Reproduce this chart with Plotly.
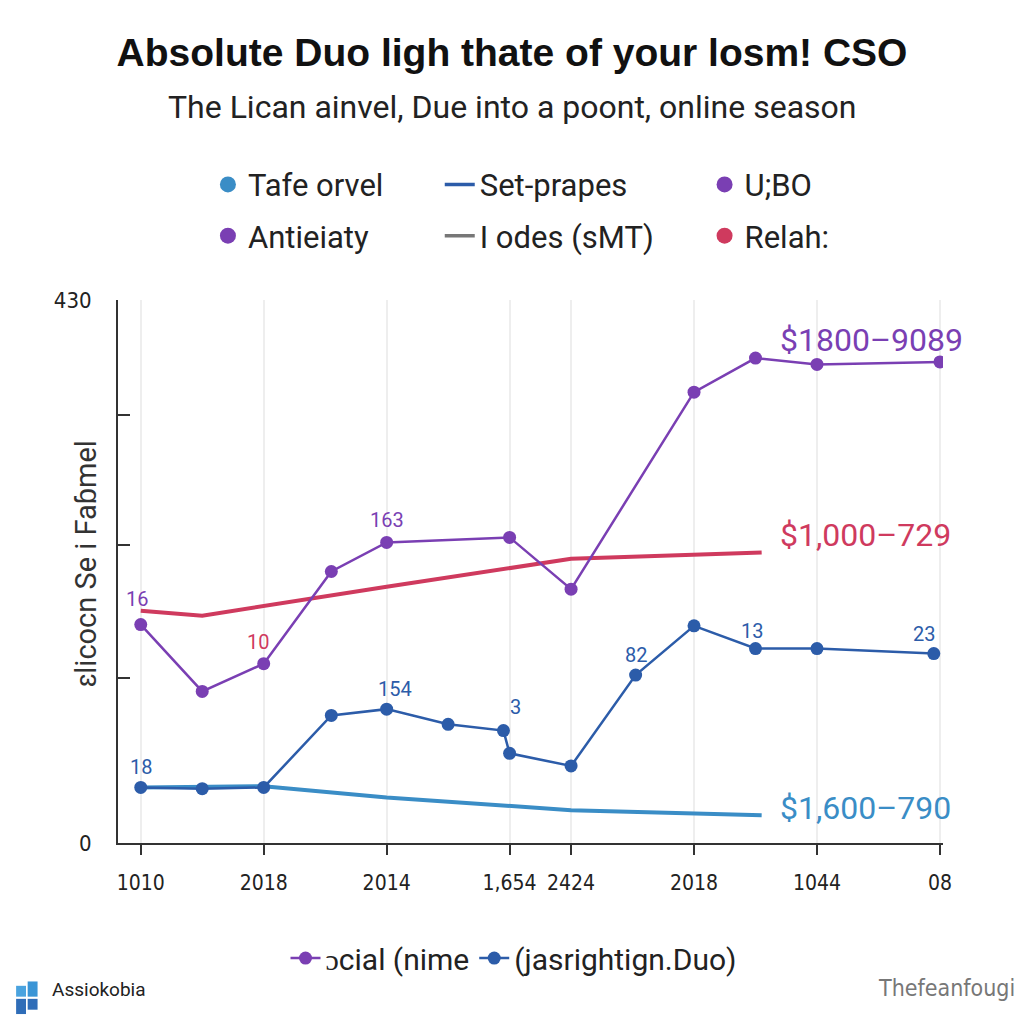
import plotly.graph_objects as go

# ---------------- data ----------------
x_ticks = [0, 2, 4, 6, 7, 9, 11, 13]
x_tick_labels = ["1010", "2018", "2014", "1,654", "2424", "2018", "1044", "08"]

purple_x = [0, 1, 2, 3.1, 4, 6, 7, 9, 10, 11, 13]
purple_y = [173, 120, 142, 215, 238, 242, 201, 357, 384, 379, 381]

blue_x = [0, 1, 2, 3.1, 4, 5, 5.9, 6, 7, 8.05, 9, 10, 11, 12.9]
blue_y = [44, 43, 44, 101, 106, 94, 89, 71, 61, 133, 172, 154, 154, 150]

red_x = [0, 1, 4, 7, 10.1]
red_y = [184, 180, 203, 225, 230]

light_x = [0, 2, 4, 7, 10.1]
light_y = [44, 45, 36, 26, 22]

y_ticks = [0, 131, 236, 339, 430]
y_tick_labels = ["0", "", "", "", "430"]

# point labels: (index, text, dx, dy)
purple_labels = [(0, "16", -4, 26), (4, "163", 0, 22)]
blue_labels = [(0, "18", 0, 20), (4, "154", 8, 20), (6, "3", 12, 24),
               (9, "82", 0, 20), (11, "13", -4, 18), (13, "23", -10, 20)]
red_label = (2, "10", -6, 22)  # placed relative to purple point index 2

end_labels = [
    ("$1800\u20139089", 10.36, 398, "#7a3fb3"),
    ("$1,000\u2013729", 10.36, 244, "#cf3a5e"),
    ("$1,600\u2013790", 10.36, 28, "#3a8dc6"),
]

PURPLE = "#7a3fb3"
BLUE = "#2c5ca9"
RED = "#cf3a5e"
LIGHT = "#3a8dc6"
GRAY = "#777777"

NARROW = "DejaVu Sans Condensed, Roboto, Liberation Sans"

fig = go.Figure()

fig.add_trace(go.Scatter(x=light_x, y=light_y, mode="lines",
                         line=dict(color=LIGHT, width=4), showlegend=False))
fig.add_trace(go.Scatter(x=red_x, y=red_y, mode="lines",
                         line=dict(color=RED, width=4), showlegend=False))
fig.add_trace(go.Scatter(x=purple_x, y=purple_y, mode="lines+markers",
                         line=dict(color=PURPLE, width=2.5),
                         marker=dict(color=PURPLE, size=13),
                         name="\u0254cial (nime", legend="legend2"))
fig.add_trace(go.Scatter(x=blue_x, y=blue_y, mode="lines+markers",
                         line=dict(color=BLUE, width=2.5),
                         marker=dict(color=BLUE, size=13),
                         name="(jasrightign.Duo)", legend="legend2"))


def legend_marker(name, color, leg, grp):
    fig.add_trace(go.Scatter(x=[None], y=[None], mode="markers",
                             marker=dict(color=color, size=22),
                             name=name, legend=leg, legendgroup=grp))


def legend_line(name, color, leg, grp):
    fig.add_trace(go.Scatter(x=[None], y=[None], mode="lines",
                             line=dict(color=color, width=3.5),
                             name=name, legend=leg, legendgroup=grp))


legend_marker("Tafe orvel", LIGHT, "legend", "a1")
legend_marker("Antieiaty", PURPLE, "legend", "a2")
legend_line("Set-prapes", BLUE, "legend3", "b1")
legend_line("I odes (sMT)", GRAY, "legend3", "b2")
legend_marker("U;BO", PURPLE, "legend4", "c1")
legend_marker("Relah:", RED, "legend4", "c2")

annotations = []
for idx, txt, dx, dy in purple_labels:
    annotations.append(dict(x=purple_x[idx], y=purple_y[idx], text=txt, showarrow=False,
                            xshift=dx, yshift=dy, font=dict(size=20, color=PURPLE)))
for idx, txt, dx, dy in blue_labels:
    annotations.append(dict(x=blue_x[idx], y=blue_y[idx], text=txt, showarrow=False,
                            xshift=dx, yshift=dy, font=dict(size=20, color=BLUE)))
idx, txt, dx, dy = red_label
annotations.append(dict(x=purple_x[idx], y=purple_y[idx], text=txt, showarrow=False,
                        xshift=dx, yshift=dy, font=dict(size=20, color=RED)))
for txt, xx, yy, col in end_labels:
    annotations.append(dict(x=xx, y=yy, text=txt, showarrow=False, xanchor="left",
                            font=dict(size=32, color=col)))

# subtitle
annotations.append(dict(xref="paper", yref="paper", x=0.478, y=1.355,
                        text="The Lican ainvel, Due into a poont, online season",
                        showarrow=False, yanchor="middle",
                        font=dict(size=32, color="#222222")))
# y axis title
annotations.append(dict(xref="paper", yref="paper", x=-0.038, y=0.515,
                        xanchor="center", yanchor="middle",
                        text="\u025blicocn Se i Fa\u0253mel", textangle=-90,
                        showarrow=False, font=dict(size=29, color="#333333")))
# footer
annotations.append(dict(xref="paper", yref="paper", x=-0.083, y=-0.294, xanchor="left",
                        text="Assiokobia", showarrow=False,
                        font=dict(size=19, color="#222222", family="Roboto")))
annotations.append(dict(xref="paper", yref="paper", x=1.09, y=-0.294, xanchor="right",
                        text="Thefeanfougi", showarrow=False,
                        font=dict(size=23, color="#777777", family=NARROW)))

shapes = [
    dict(type="rect", xref="paper", yref="paper", x0=-0.1235, x1=-0.1115, y0=-0.263, y1=-0.283,
         fillcolor="#4aa3df", line_width=0),
    dict(type="rect", xref="paper", yref="paper", x0=-0.1095, x1=-0.0975, y0=-0.255, y1=-0.283,
         fillcolor="#3a95d6", line_width=0),
    dict(type="rect", xref="paper", yref="paper", x0=-0.1235, x1=-0.1115, y0=-0.287, y1=-0.315,
         fillcolor="#2f6db8", line_width=0),
    dict(type="rect", xref="paper", yref="paper", x0=-0.1095, x1=-0.0975, y0=-0.287, y1=-0.307,
         fillcolor="#2f6db8", line_width=0),
]

legend_font = dict(size=31, color="#222222", family="Roboto")

fig.update_layout(
    width=1024, height=1024,
    margin=dict(l=118, r=81, t=300, b=181),
    paper_bgcolor="white", plot_bgcolor="white",
    font=dict(family="Roboto, Liberation Sans", color="#222222"),
    title=dict(text="<b>Absolute Duo ligh thate of your losm! CSO</b>",
               x=0.5, xanchor="center", y=0.949, yanchor="middle",
               font=dict(size=39, color="#111111", family="Liberation Sans")),
    xaxis=dict(range=[-0.37, 13.05], tickvals=x_ticks, ticktext=x_tick_labels,
               showgrid=True, gridcolor="#eeeeee", gridwidth=1.5, zeroline=False,
               showline=True, linecolor="#333333", linewidth=2,
               ticks="outside", ticklen=10, tickwidth=2, tickcolor="#333333",
               ticklabelstandoff=10,
               tickfont=dict(size=21, color="#222222", family=NARROW)),
    yaxis=dict(range=[0, 430], tickvals=y_ticks, ticktext=y_tick_labels,
               showgrid=False, zeroline=False,
               showline=True, linecolor="#333333", linewidth=2,
               ticks="inside", ticklen=12, tickwidth=2, tickcolor="#333333",
               ticklabelstandoff=20,
               tickfont=dict(size=22, color="#222222", family=NARROW)),
    legend=dict(x=0.109, y=1.262, xanchor="left", yanchor="top", orientation="v",
                tracegroupgap=8, font=legend_font, bgcolor="rgba(0,0,0,0)"),
    legend3=dict(x=0.39, y=1.262, xanchor="left", yanchor="top", orientation="v",
                 tracegroupgap=8, font=legend_font, bgcolor="rgba(0,0,0,0)"),
    legend4=dict(x=0.711, y=1.262, xanchor="left", yanchor="top", orientation="v",
                 tracegroupgap=8, font=legend_font, bgcolor="rgba(0,0,0,0)"),
    legend2=dict(x=0.48, y=-0.212, xanchor="center", yanchor="middle", orientation="h",
                 font=dict(size=30, color="#222222", family="Roboto"),
                 bgcolor="rgba(0,0,0,0)"),
    annotations=annotations,
    shapes=shapes,
)

fig.write_html("out.html")
